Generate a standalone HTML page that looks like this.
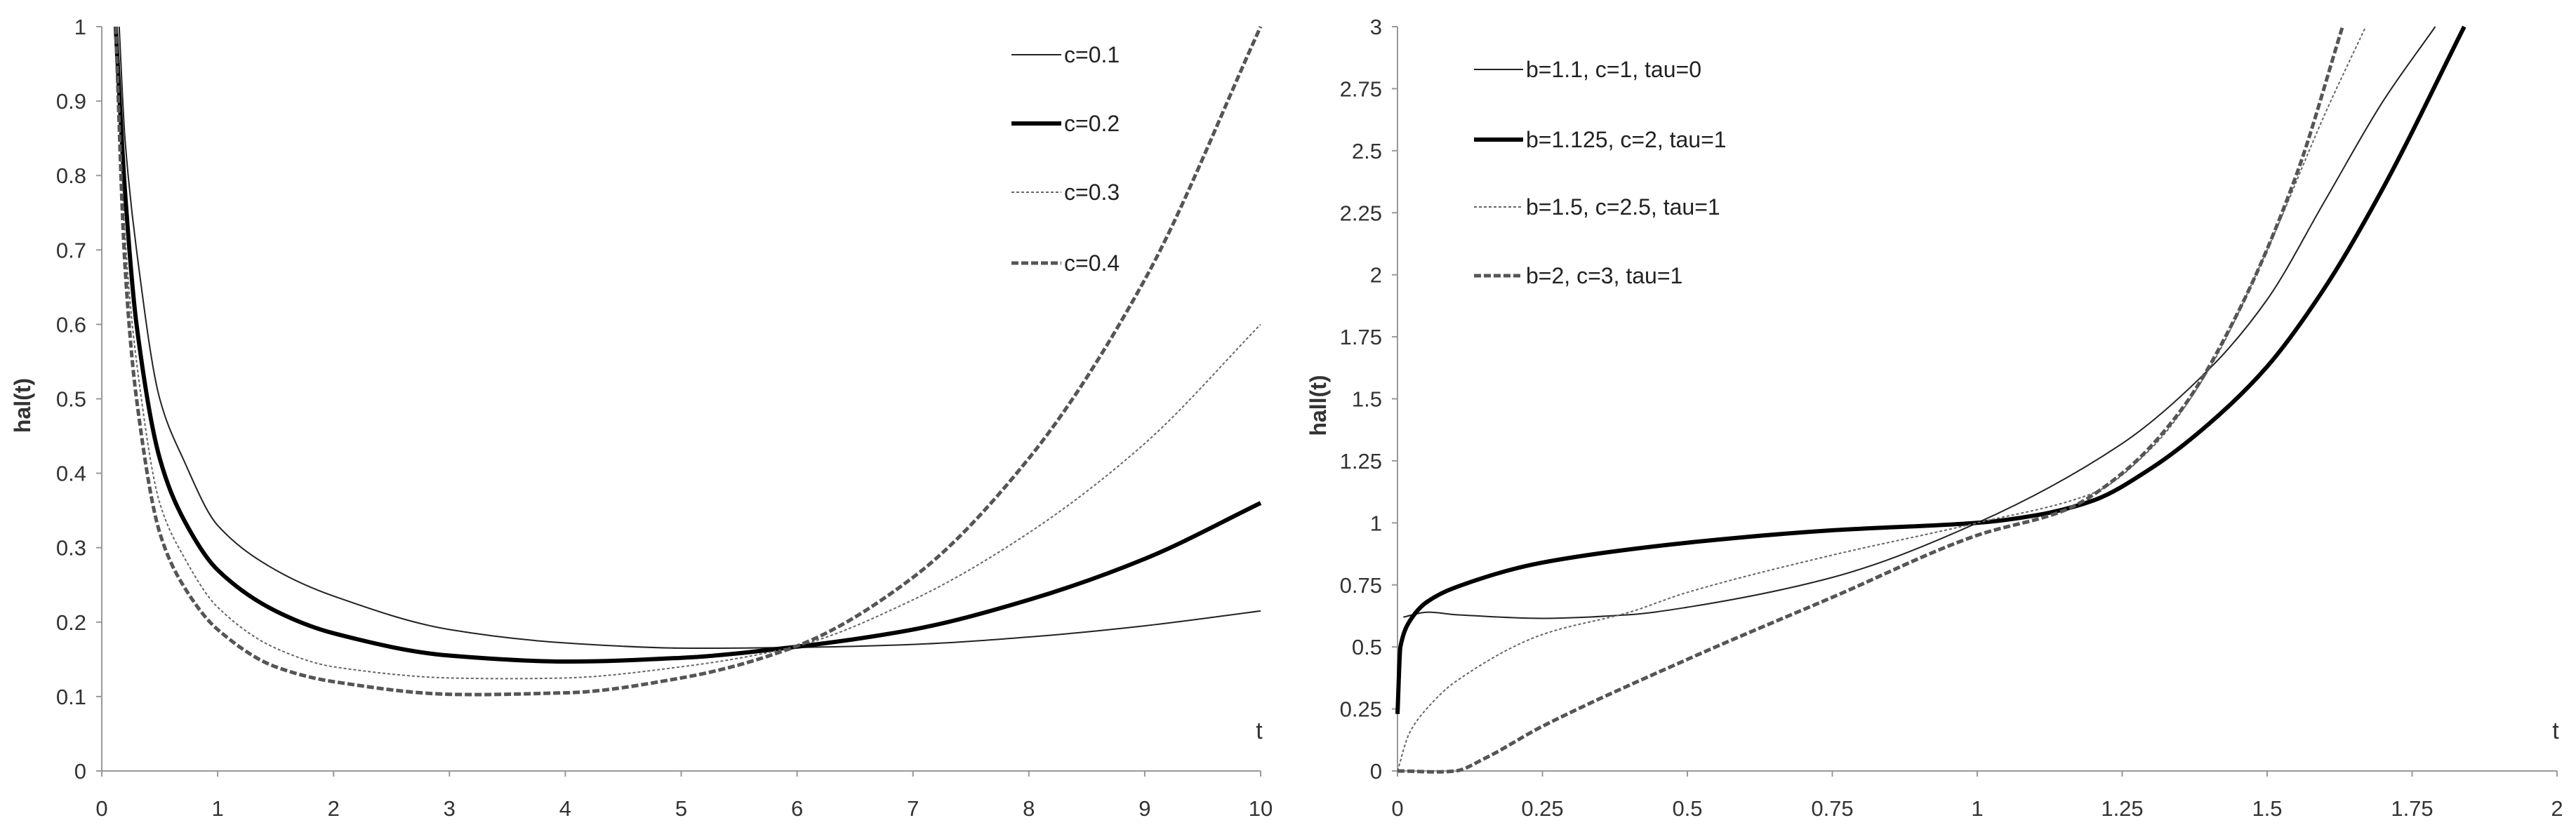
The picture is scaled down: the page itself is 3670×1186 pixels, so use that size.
<!DOCTYPE html>
<html><head><meta charset="utf-8"><style>
html,body{margin:0;padding:0;background:#fff;}
svg{display:block;font-family:"Liberation Sans",sans-serif;}
</style></head><body>
<svg id="chart" width="3670" height="1186" viewBox="0 0 3670 1186" xmlns="http://www.w3.org/2000/svg"></svg>
<script>
// ---- Left chart data ----
const leftT1 = [0.15,0.2,0.3,0.5,0.7,1,1.5,2,3,4,5,6,7,8,9,10];
const leftC1 = [1.0,0.85,0.7,0.5,0.42,0.33,0.27,0.235,0.19,0.172,0.165,0.166,0.17,0.18,0.195,0.215];
const leftT = [0.12,0.2,0.3,0.5,0.7,1,1.5,2,3,4,5,6,7,8,9,10];
const leftC2 = [1.0,0.78,0.6,0.42,0.34,0.27,0.215,0.185,0.155,0.147,0.152,0.167,0.19,0.23,0.285,0.36];
const leftC3 = [1.0,0.72,0.55,0.36,0.29,0.22,0.165,0.14,0.125,0.125,0.14,0.168,0.23,0.32,0.44,0.6];
const leftC4 = [1.0,0.68,0.5,0.32,0.25,0.19,0.14,0.12,0.103,0.105,0.125,0.168,0.26,0.42,0.66,1.0];
const leftXTicks = [0,1,2,3,4,5,6,7,8,9,10];
const leftYTicks = [0,0.1,0.2,0.3,0.4,0.5,0.6,0.7,0.8,0.9,1];
const leftLegend = ["c=0.1","c=0.2","c=0.3","c=0.4"];
// ---- Right chart data ----
const rT1 = [0.01,0.05,0.1,0.25,0.4,0.5,0.75,1,1.25,1.4,1.5,1.6,1.7,1.79];
const rS1 = [0.62,0.64,0.63,0.615,0.63,0.66,0.78,1.0,1.32,1.62,1.9,2.3,2.7,3.0];
const rT2 = [0,0.005,0.02,0.05,0.1,0.25,0.5,0.75,1,1.1,1.2,1.3,1.4,1.5,1.6,1.7,1.84];
const rS2 = [0.23,0.5,0.6,0.68,0.74,0.84,0.92,0.97,1.0,1.03,1.09,1.22,1.4,1.63,1.95,2.35,3.0];
const rT3 = [0,0.02,0.05,0.1,0.25,0.4,0.5,0.75,1,1.2,1.3,1.4,1.5,1.6,1.67];
const rS3 = [0,0.15,0.25,0.36,0.55,0.64,0.72,0.87,1.0,1.12,1.3,1.62,2.1,2.65,3.0];
const rT4 = [0,0.1,0.15,0.25,0.5,0.75,1,1.15,1.25,1.35,1.45,1.55,1.63];
const rS4 = [0,0,0.05,0.18,0.45,0.7,0.95,1.05,1.2,1.45,1.85,2.4,3.0];
const rightXTicks = [0,0.25,0.5,0.75,1,1.25,1.5,1.75,2];
const rightYTicks = [0,0.25,0.5,0.75,1,1.25,1.5,1.75,2,2.25,2.5,2.75,3];
const rightLegend = ["b=1.1, c=1, tau=0","b=1.125, c=2, tau=1","b=1.5, c=2.5, tau=1","b=2, c=3, tau=1"];

const NS="http://www.w3.org/2000/svg";
const svg=document.getElementById('chart');
function mk(tag,attrs,parent){const e=document.createElementNS(NS,tag);for(const k in attrs)e.setAttribute(k,attrs[k]);(parent||svg).appendChild(e);return e;}
function path(xs,ys,sx,sy){
  const n=xs.length;
  const m=xs.map((x,i)=>{
    if(i===0) return (ys[1]-ys[0])/(xs[1]-xs[0]);
    if(i===n-1) return (ys[n-1]-ys[n-2])/(xs[n-1]-xs[n-2]);
    const a=(ys[i]-ys[i-1])/(xs[i]-xs[i-1]), b=(ys[i+1]-ys[i])/(xs[i+1]-xs[i]);
    if(a*b<=0) return (a+b)/2*0.5;
    return 2*a*b/(a+b); // harmonic mean (monotone)
  });
  let d="M"+sx(xs[0]).toFixed(1)+","+sy(ys[0]).toFixed(1);
  for(let i=0;i<n-1;i++){
    const h=xs[i+1]-xs[i];
    const c1x=xs[i]+h/3, c1y=ys[i]+m[i]*h/3;
    const c2x=xs[i+1]-h/3, c2y=ys[i+1]-m[i+1]*h/3;
    d+=" C"+sx(c1x).toFixed(1)+","+sy(c1y).toFixed(1)+" "+sx(c2x).toFixed(1)+","+sy(c2y).toFixed(1)+" "+sx(xs[i+1]).toFixed(1)+","+sy(ys[i+1]).toFixed(1);
  }
  return d;
}
const styles=[
  {stroke:"#222","stroke-width":2},
  {stroke:"#000","stroke-width":6},
  {stroke:"#666","stroke-width":2,"stroke-dasharray":"4 3"},
  {stroke:"#555","stroke-width":5,"stroke-dasharray":"10 4"}
];
function axes(g,x0,x1,y0,y1,xmin,xmax,ymax,xt,yt,ytitle){
  const sx=v=>x0+(v-xmin)/(xmax-xmin)*(x1-x0);
  const sy=v=>y0-(v/ymax)*(y0-y1);
  const xa=mk('line',{x1:x0,y1:y0,x2:x1,y2:y0,stroke:"#999","stroke-width":2},g);
  
  
  const ya=mk('line',{x1:x0,y1:y0,x2:x0,y2:y1,stroke:"#999","stroke-width":2},g);
  
  
  xt.forEach(v=>{
    mk('line',{x1:sx(v),y1:y0,x2:sx(v),y2:y0+8,stroke:"#999","stroke-width":2},g);
    const t=mk('text',{x:sx(v),y:1163,"text-anchor":"middle","font-size":31,fill:"#333"},g);
    t.textContent=String(v);
    
    
  });
  yt.forEach(v=>{
    mk('line',{x1:x0-8,y1:sy(v),x2:x0,y2:sy(v),stroke:"#999","stroke-width":2},g);
    const t=mk('text',{x:x0-22,y:sy(v)+11,"text-anchor":"end","font-size":31,fill:"#333"},g);
    t.textContent=String(v);
    
    
  });
  const yl=mk('text',{x:0,y:0,"text-anchor":"middle","font-size":32,"font-weight":"bold",fill:"#333",transform:`translate(${x0-102},578) rotate(-90)`},g);
  yl.textContent=ytitle;
  
  
  const tl=mk('text',{x:x1-2,y:1053,"text-anchor":"middle","font-size":34,fill:"#333"},g);
  tl.textContent="t";
  
  
  return [sx,sy];
}
// Left chart
const gL=mk('g',{});


const [lx,ly]=axes(gL,145,1796,1099,38,0,10,1,leftXTicks,leftYTicks,"hal(t)");
const lSeries=[[leftT1,leftC1],[leftT,leftC2],[leftT,leftC3],[leftT,leftC4]];
lSeries.forEach((s,i)=>{
  const p=mk('path',Object.assign({d:path(s[0],s[1],lx,ly),fill:"none"},styles[i]),gL);
  
  
});
const lLegY=[78,176,274,375];
leftLegend.forEach((lab,i)=>{
  const l=mk('line',Object.assign({x1:1441,y1:lLegY[i],x2:1512,y2:lLegY[i]},styles[i]),gL);
  
  
  const t=mk('text',{x:1516,y:lLegY[i]+11,"font-size":32,fill:"#222"},gL);
  t.textContent=lab;
  
  
});
// Right chart
const gR=mk('g',{});


const [rx,ry]=axes(gR,1991,3643,1099,38,0,2,3,rightXTicks,rightYTicks,"hall(t)");
const clip=mk('clipPath',{id:"rc"},gR);
mk('rect',{x:1985,y:36,width:1665,height:1070},clip);
const rSeries=[[rT1,rS1],[rT2,rS2],[rT3,rS3],[rT4,rS4]];
rSeries.forEach((s,i)=>{
  const p=mk('path',Object.assign({d:path(s[0],s[1],rx,ry),fill:"none","clip-path":"url(#rc)"},styles[i]),gR);
  
  
});
const rLegY=[99,199,295,393];
rightLegend.forEach((lab,i)=>{
  const l=mk('line',Object.assign({x1:2100,y1:rLegY[i],x2:2170,y2:rLegY[i]},styles[i]),gR);
  
  
  const t=mk('text',{x:2174,y:rLegY[i]+11,"font-size":32,fill:"#222"},gR);
  t.textContent=lab;
  
  
});
</script>
</body></html>
